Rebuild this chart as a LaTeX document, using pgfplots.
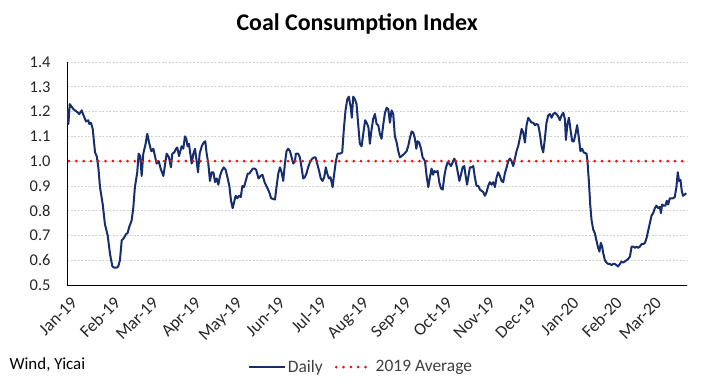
\documentclass[border=0pt]{standalone}
\usepackage{fontspec}
\setmainfont{Carlito}
\usepackage{pgfplots}
\pgfplotsset{compat=1.18}
\definecolor{navy}{RGB}{22,45,110}
\definecolor{avgred}{RGB}{235,20,20}
\definecolor{txt}{RGB}{64,64,64}
\begin{document}
\begin{tikzpicture}
\path[use as bounding box] (0,0) rectangle (720bp,387bp);
\begin{axis}[
  at={(67bp,102bp)}, anchor=south west,
  scale only axis, width=620bp, height=223bp,
  xmin=0, xmax=451, ymin=0.5, ymax=1.4,
  axis x line=bottom, axis y line=left,
  axis line style={black, line width=0.9bp, -},
  ytick={0.5,0.6,0.7,0.8,0.9,1.0,1.1,1.2,1.3,1.4},
  yticklabel style={xshift=-13bp, /pgf/number format/.cd, fixed, fixed zerofill, precision=1},
  /pgf/number format/assume math mode=true,
  xtick={0,31,59,90,120,151,181,212,243,273,304,334,365,396,425},
  xticklabels={Jan-19,Feb-19,Mar-19,Apr-19,May-19,Jun-19,Jul-19,Aug-19,Sep-19,Oct-19,Nov-19,Dec-19,Jan-20,Feb-20,Mar-20},
  major tick length=0pt,
  tick label style={text=black!85, font=\fontsize{16.5}{16.5}\selectfont},
  xticklabel style={rotate=45, anchor=north east, inner sep=1bp, xshift=-4.25bp, yshift=-8.75bp, font=\fontsize{17.5}{17.5}\selectfont},
  ymajorgrids, grid style={gray!35, dash pattern=on 2bp off 1.5bp, line width=0.6bp},
  title={Coal Consumption Index},
  title style={at={(0.468,1.145)}, anchor=center, font=\fontsize{24}{24}\selectfont\bfseries},
  legend style={at={(0.474,-0.368)}, anchor=center, draw=none, fill=none,
    font=\fontsize{17.5}{17.5}\selectfont, text=txt,
    /tikz/every even column/.append style={column sep=10bp}},
  legend columns=2,
  legend image code/.code={\draw[#1] (0bp,0bp) -- (36bp,0bp);},
]
\addplot[navy, line width=2bp, line join=round] coordinates {
(0,1.21)(1,1.15)(2,1.23)(4.6,1.21)(7,1.20)(9,1.19)(10.7,1.205)(12,1.185)(13.8,1.16)(15.5,1.165)(16.2,1.15)(17.4,1.155)(18.7,1.13)(19.6,1.08)(20.4,1.035)(21.6,1.02)(22.8,0.975)(24,0.895)(26,0.825)(27.6,0.745)(29.6,0.70)(31.3,0.625)(33,0.575)(34.4,0.57)(36.1,0.57)(37.3,0.575)(38.5,0.60)(39.8,0.68)(41.4,0.69)(42.9,0.705)(44.1,0.71)(45.3,0.735)(47,0.76)(48.2,0.81)(49.4,0.895)(51.1,0.955)(52.1,1.03)(53.3,1.02)(54.3,0.94)(55.5,1.03)(57.2,1.07)(58.4,1.11)(59.9,1.07)(61.3,1.04)(62.8,1.05)(64,1.02)(65.2,0.99)(66.7,1.00)(68.1,0.97)(70.1,0.94)
(72.5,1.03)(74.2,1.015)(75.6,0.975)(76.6,1.03)(78,1.035)(79.3,1.05)(80.2,1.055)(81.5,1.02)(82.4,1.04)(83.4,1.06)(84.6,1.05)(85.8,1.10)(86.8,1.09)(87.7,1.06)(88.7,1.07)(89.7,1.03)(90.7,0.99)(91.9,1.03)(93.1,1.05)(94.3,1.00)(95.3,0.955)(96.5,1.03)(98,1.06)(99.4,1.075)(100.6,1.08)(101.6,1.03)(102.8,0.99)(104,0.92)(105.2,0.955)(106.5,0.955)(107.7,0.915)(108.9,0.93)(110.1,0.905)(111.3,0.94)(112.5,0.96)(114,0.975)(115.4,0.965)(116.9,0.93)(118.1,0.90)(119.3,0.84)(120.5,0.81)(121.8,0.84)(122.7,0.86)(123.9,0.85)(125.1,0.86)(126.4,0.855)(127.6,0.90)(128.8,0.895)(130,0.92)(131.5,0.95)(132.7,0.95)(133.9,0.96)(135.2,0.97)(136.4,0.97)(137.6,0.965)(139.3,0.93)(140.8,0.94)(142.2,0.945)(143.7,0.915)(145.4,0.895)(147.1,0.875)(148.5,0.85)
(151.3,0.845)(152.5,0.90)(153.7,0.95)(154.9,0.975)(156.1,0.955)(157.3,0.92)(158.5,0.99)(159.7,1.04)(160.9,1.05)(162.2,1.04)(163.4,1.015)(164.6,0.99)(165.8,1.00)(166.5,1.03)(168.2,1.03)(169.4,1.015)(170.6,0.975)(171.8,0.93)(173,0.935)(174.2,0.95)(175.4,0.975)(176.7,0.995)(178.4,1.01)(179.8,1.015)(180.8,1.015)(182,0.99)(183.4,0.96)(184.6,0.93)(185.9,0.92)(187.1,0.935)(188.3,0.975)(189.3,0.95)(190.5,0.93)(191.7,0.935)(193.2,0.895)(194.4,0.95)(195.6,1.00)(196.8,1.03)(198.5,1.03)(200.2,1.035)(201.4,1.13)(202.6,1.205)(203.9,1.25)(205,1.26)(206.3,1.22)(207.2,1.175)(208.2,1.26)(209.4,1.25)(210.6,1.23)(211.8,1.15)(213,1.07)(214.3,1.06)(215.5,1.11)(216.9,1.165)(218.4,1.15)(219.3,1.135)(220.3,1.07)(221.5,1.125)(222.7,1.17)
(224,1.19)(225.2,1.15)(226.4,1.145)(227.6,1.11)(228.8,1.09)(230.1,1.15)(231.3,1.195)(232.5,1.215)(233.7,1.21)(234.9,1.155)(236.1,1.205)(237.3,1.19)(238.5,1.10)(239.8,1.075)(241,1.04)(242.2,1.015)(243.4,1.02)(245.4,1.03)(247,1.04)(248.2,1.06)(249.5,1.095)(250.7,1.12)(251.9,1.115)(253.1,1.09)(254.1,1.05)(255,1.08)(256.2,1.075)(257.5,1.05)(258.7,1.015)(260.4,1.00)(261.6,0.94)(262.8,0.895)(264,0.935)(265.2,0.97)(266.2,0.945)(267.2,0.96)(268.4,0.955)(269.6,0.96)(270.8,0.915)(272,0.89)(273.3,0.885)(274.5,0.94)(275.7,0.975)(276.9,0.995)(278.1,0.99)(279.3,0.98)(280.5,0.995)(281.7,1.01)(282.9,0.995)(284.1,0.96)(285.4,0.92)(286.6,0.945)(287.8,0.975)(289,0.98)(290,0.94)(291,0.905)(291.9,0.935)(293.1,0.975)(294.3,0.975)(295.5,0.98)(296.7,0.935)(297.9,0.90)(299.2,0.90)
(300.4,0.885)(301.6,0.88)(302.8,0.875)(304,0.86)(305.2,0.875)(306.4,0.90)(307.6,0.915)(308.8,0.905)(310.1,0.915)(311.3,0.895)(312.5,0.935)(313.7,0.955)(314.9,0.94)(316.1,0.92)(317.3,0.915)(318.5,0.95)(319.8,0.975)(321,1.00)(322.2,1.01)(323.4,1.00)(324.6,0.98)(325.8,1.01)(327,1.04)(328.2,1.06)(329.5,1.095)(330.7,1.13)(331.9,1.115)(333.1,1.075)(334.3,1.145)(335.5,1.175)(336.7,1.165)(337.9,1.155)(339.2,1.155)(340.4,1.145)(341.6,1.15)(342.8,1.145)(344,1.11)(345.2,1.06)(346.4,1.035)(347.6,1.09)(348.8,1.155)(350.1,1.185)(351.3,1.19)(352.5,1.175)(353.7,1.19)(354.9,1.195)(356.1,1.19)(357.3,1.18)(358.5,1.165)(359.8,1.185)(361,1.195)(362.2,1.17)(362.9,1.085)(363.9,1.145)(365.1,1.175)(366.3,1.125)(367.5,1.08)(368.7,1.08)(369.9,1.11)(371.1,1.145)(372.3,1.095)(373.5,1.04)(374.7,1.05)(375.9,1.035)
(377.9,1.03)(378.6,1.00)(379.6,0.92)(380.6,0.825)(381.5,0.765)(382.7,0.725)(383.9,0.71)(385.1,0.68)(386.4,0.65)(387.3,0.635)(388.3,0.67)(389.3,0.655)(390,0.63)(391.3,0.60)(392.5,0.59)(393.7,0.585)(394.9,0.585)(396.1,0.58)(397.3,0.585)(398.5,0.585)(399.7,0.58)(400.9,0.575)(402.2,0.585)(403.4,0.595)(404.6,0.59)(405.8,0.595)(407,0.60)(408.2,0.605)(409.5,0.615)(410.7,0.655)(411.9,0.655)(413.1,0.65)(414.3,0.655)(415.5,0.65)(416.7,0.655)(417.9,0.665)(419.2,0.665)(420.4,0.67)(421.6,0.69)(422.8,0.72)(424,0.75)(425.2,0.78)(426.4,0.79)(427.6,0.81)(428.8,0.82)(430.1,0.81)(431.3,0.815)(432,0.79)(432.9,0.825)(434.1,0.82)(435.3,0.82)(436.3,0.84)(437.3,0.825)(438.5,0.85)(439.7,0.85)(440.9,0.85)(442.1,0.855)(443.3,0.895)(444.3,0.955)(445.2,0.92)(446.2,0.925)(447.2,0.88)(448.1,0.86)(449.3,0.865)(450.5,0.87)
};
\addlegendentry{Daily}
\addplot[avgred, line width=3bp, dash pattern=on 0bp off 7.3bp, line cap=round] coordinates {(1.5,1.0) (449,1.0)};
\addlegendentry{2019 Average}
\end{axis}
\node[anchor=west, font=\fontsize{17}{17}\selectfont, text=black] at (6bp,22bp) {Wind, Yicai};
\end{tikzpicture}
\end{document}
